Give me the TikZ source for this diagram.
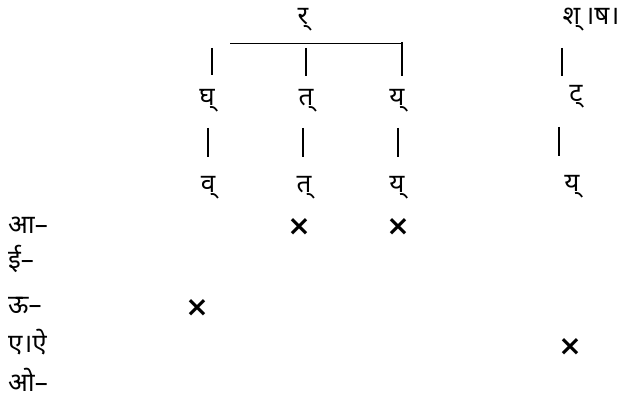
\documentclass[tikz,border=0pt]{standalone}
\usepackage{fontspec}
\newfontfamily\deva[Script=Devanagari]{Noto Sans}
\newfontfamily\markfont{DejaVu Sans}
\begin{document}
\begin{tikzpicture}[x=1pt,y=-1pt,
  letter/.style={inner sep=0pt,font=\deva\fontsize{26}{30}\selectfont},
  rowlabel/.style={letter,anchor=west},
  cross/.style={inner sep=0pt,font=\markfont\bfseries\fontsize{28}{30}\selectfont},
  bar/.style={line width=1.4pt},
  rule/.style={line width=0.7pt}]
\useasboundingbox (0,0) rectangle (625,403);

% top of the tree
\node[letter] (ra) at (303,20) {र्};
\node[letter] (sha) at (591,20) {श्\,।ष।};

% second level
\node[letter] (gha) at (207,101) {घ्};
\node[letter] (ta1) at (306,101) {त्};
\node[letter] (ya1) at (397,101) {य्};
\node[letter] (tta) at (576,97) {ट्};

% third level
\node[letter] (va) at (208,188) {व्};
\node[letter] (ta2) at (304,188) {त्};
\node[letter] (ya2) at (397,188) {य्};
\node[letter] (ya3) at (572,187) {य्};

% branching rule below र्
\coordinate (brL) at (230,43);
\coordinate (brR) at (402,43);
\draw[rule] (brL) -- (brR);

% bars from the rule and from श्।ष। down to the second level
\coordinate (b1) at (212,48);
\coordinate (b2) at (306,48);
\coordinate (b3) at (402,42);
\coordinate (b4) at (562,48);
\draw[bar] (b1) -- (b1 |- 0,75);
\draw[bar] (b2) -- (b2 |- 0,76);
\draw[bar] (b3) -- (b3 |- 0,76);
\draw[bar] (b4) -- (b4 |- 0,76);

% bars between second and third level
\draw[bar] ([xshift=1pt]gha.south |- 0,128) -- ([xshift=1pt]gha.south |- 0,157);
\draw[bar] ([xshift=-3pt]ta1.south |- 0,128) -- ([xshift=-3pt]ta1.south |- 0,157);
\draw[bar] ([xshift=1pt]ya1.south |- 0,128) -- ([xshift=1pt]ya1.south |- 0,157);
\draw[bar] ([xshift=-17pt]tta.south |- 0,127) -- ([xshift=-17pt]tta.south |- 0,156);

% vowel rows
\node[rowlabel] (aa) at (8,225) {आ–};
\node[rowlabel] (ii) at (8,259) {ई–};
\node[rowlabel] (uu) at (8,306) {ऊ–};
\node[rowlabel] (ee) at (8,342) {ए।ऐ};
\node[rowlabel] (oo) at (8,380) {ओ–};

% marks
\node[cross] (x1) at (299,227) {×};
\node[cross] (x2) at (398,227) {×};
\node[cross] (x3) at (197,308) {×};
\node[cross] (x4) at (570,347) {×};
\end{tikzpicture}
\end{document}
